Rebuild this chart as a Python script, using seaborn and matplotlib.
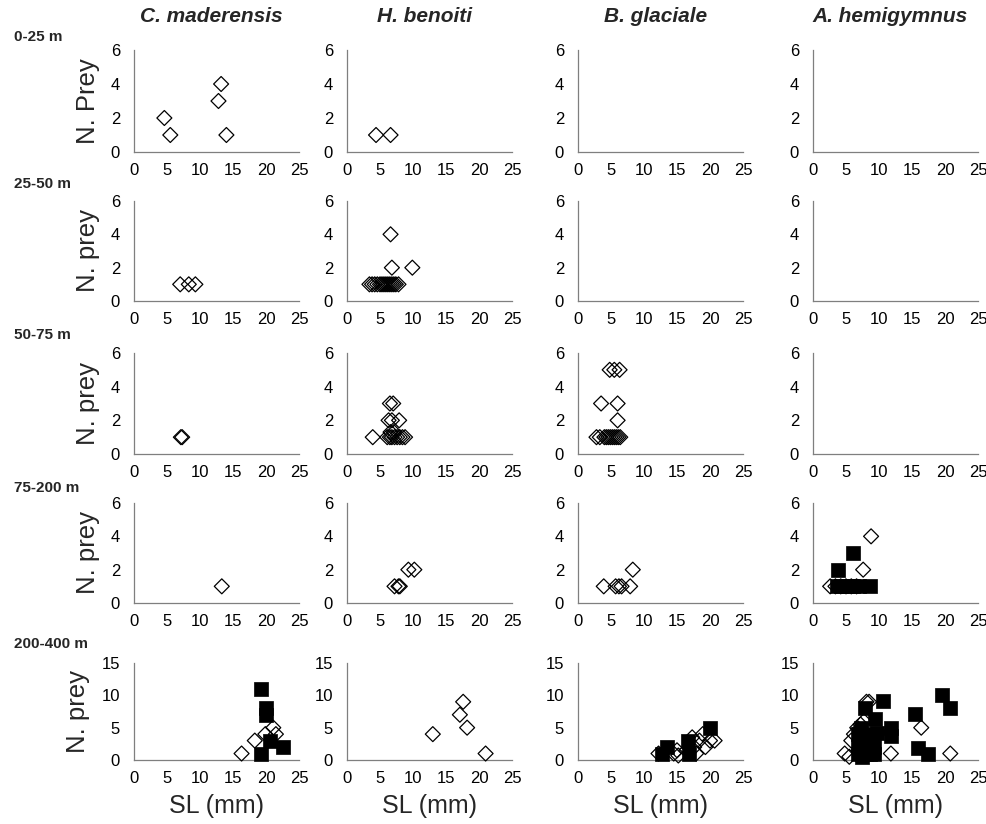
import numpy as np
import pandas as pd
import matplotlib
matplotlib.use("Agg")
import matplotlib.pyplot as plt
import seaborn as sns

# ---------------- data ----------------
species = ["C. maderensis", "H. benoiti", "B. glaciale", "A. hemigymnus"]
depths = ["0-25 m", "25-50 m", "50-75 m", "75-200 m", "200-400 m"]
ylabels = ["N. Prey", "N. prey", "N. prey", "N. prey", "N. prey"]
x_ticks = [0, 5, 10, 15, 20, 25]
y_ticks_upper = [0, 2, 4, 6]
y_ticks_lower = [0, 5, 10, 15]

# open diamonds (sl, prey) / filled squares (sl, prey)
cmad_d1_sl = [4.6, 5.5, 12.8, 13.2, 14.0]
cmad_d1_prey = [2, 1, 3, 4, 1]
hben_d1_sl = [4.4, 6.6]
hben_d1_prey = [1, 1]

cmad_d2_sl = [7.0, 8.3, 9.3]
cmad_d2_prey = [1, 1, 1]
hben_d2_sl = [3.4, 3.8, 4.2, 4.6, 5.0, 5.3, 5.6, 5.9, 6.2, 6.5, 6.8, 7.1, 7.4, 7.8, 6.6, 6.8, 9.9]
hben_d2_prey = [1, 1, 1, 1, 1, 1, 1, 1, 1, 1, 1, 1, 1, 1, 4, 2, 2]

cmad_d3_sl = [7.1, 7.3]
cmad_d3_prey = [1, 1]
hben_d3_sl = [3.9, 6.1, 6.5, 6.8, 7.2, 7.6, 8.0, 8.4, 8.8, 6.3, 6.8, 7.9, 6.5, 7.0, 6.6, 7.1]
hben_d3_prey = [1, 1, 1, 1, 1, 1, 1, 1, 1, 2, 2, 2, 3, 3, 1.3, 1.3]
bgla_d3_sl = [2.8, 3.3, 4.0, 4.3, 4.6, 4.9, 5.2, 5.5, 5.8, 6.1, 6.4, 3.5, 6.0, 6.0, 4.8, 5.5, 6.3]
bgla_d3_prey = [1, 1, 1, 1, 1, 1, 1, 1, 1, 1, 1, 3, 3, 2, 5, 5, 5]

cmad_d4_sl = [13.3]
cmad_d4_prey = [1]
hben_d4_sl = [7.2, 7.8, 8.0, 9.3, 10.2]
hben_d4_prey = [1, 1, 1, 2, 2]
bgla_d4_sl = [3.9, 5.7, 6.2, 6.6, 7.9, 8.3]
bgla_d4_prey = [1, 1, 1, 1, 1, 2]
ahem_d4_sl = [2.6, 3.4, 4.2, 5.0, 5.8, 6.6, 7.6, 8.8]
ahem_d4_prey = [1, 1, 1, 1, 1, 1, 2, 4]
ahem_d4_fsl = [3.6, 4.3, 5.2, 6.0, 6.9, 8.6, 3.8, 6.0]
ahem_d4_fprey = [1, 1, 1, 1, 1, 1, 2, 3]

cmad_d5_sl = [16.3, 18.3, 19.9, 21.1, 21.5]
cmad_d5_prey = [1, 3, 4, 5, 4]
cmad_d5_fsl = [19.3, 20.0, 20.0, 20.6, 19.3, 22.6]
cmad_d5_fprey = [11, 8, 7, 3, 1, 2]
hben_d5_sl = [13.0, 17.1, 17.6, 18.2, 21.0]
hben_d5_prey = [4, 7, 9, 5, 1]
bgla_d5_sl = [12.2, 14.5, 15.0, 15.2, 16.4, 17.3, 17.6, 17.9, 18.4, 18.9, 19.3, 20.0, 20.7]
bgla_d5_prey = [1, 1, 1.5, 0.7, 1.5, 3.5, 2, 1, 3, 4, 2, 3, 3]
bgla_d5_fsl = [12.8, 13.5, 16.7, 16.8, 20.0]
bgla_d5_fprey = [1, 2, 3, 1, 5]
ahem_d5_sl = [4.8, 5.5, 5.8, 6.2, 6.7, 7.2, 7.7, 8.1, 8.5, 11.8, 16.4, 20.8]
ahem_d5_prey = [1, 0.5, 3, 4, 5, 5.5, 6, 9, 9, 1, 5, 1]
ahem_d5_fsl = [6.8, 6.8, 6.8, 7.4, 7.4, 7.4, 8.0, 8.0, 8.6, 8.6, 9.3, 9.3, 7.2, 8.9,
               7.9, 9.4, 9.7, 10.6, 11.8, 11.8, 15.4, 15.9, 17.5, 19.6, 20.8]
ahem_d5_fprey = [1, 2, 4, 1, 3, 0.5, 2, 1, 1, 3, 2, 1, 5, 4,
                 8, 6.3, 4.1, 9.2, 5, 3.7, 7.1, 1.9, 1, 10, 8]

open_data = {
    (0, 0): (cmad_d1_sl, cmad_d1_prey), (0, 1): (hben_d1_sl, hben_d1_prey),
    (1, 0): (cmad_d2_sl, cmad_d2_prey), (1, 1): (hben_d2_sl, hben_d2_prey),
    (2, 0): (cmad_d3_sl, cmad_d3_prey), (2, 1): (hben_d3_sl, hben_d3_prey),
    (2, 2): (bgla_d3_sl, bgla_d3_prey),
    (3, 0): (cmad_d4_sl, cmad_d4_prey), (3, 1): (hben_d4_sl, hben_d4_prey),
    (3, 2): (bgla_d4_sl, bgla_d4_prey), (3, 3): (ahem_d4_sl, ahem_d4_prey),
    (4, 0): (cmad_d5_sl, cmad_d5_prey), (4, 1): (hben_d5_sl, hben_d5_prey),
    (4, 2): (bgla_d5_sl, bgla_d5_prey), (4, 3): (ahem_d5_sl, ahem_d5_prey),
}
filled_data = {
    (3, 3): (ahem_d4_fsl, ahem_d4_fprey),
    (4, 0): (cmad_d5_fsl, cmad_d5_fprey),
    (4, 2): (bgla_d5_fsl, bgla_d5_fprey),
    (4, 3): (ahem_d5_fsl, ahem_d5_fprey),
}

# ---------------- style ----------------
sns.set_style("white")
plt.rcParams["font.family"] = ["Liberation Sans", "DejaVu Sans"]

W, H = 987, 824
fig = plt.figure(figsize=(W / 100, H / 100), dpi=100)

col_left = [134, 347, 578, 813]
ax_w = 165
row_top = [50, 201, 353, 503, 663]
row_bot = [152, 301, 454, 603, 760]
row_label_y = [37, 184, 335, 488, 644]
spine_col = "#7f7f7f"

for r in range(5):
    for c in range(4):
        ax = fig.add_axes([col_left[c] / W, 1 - row_bot[r] / H,
                           ax_w / W, (row_bot[r] - row_top[r]) / H])
        if (r, c) in open_data:
            xs, ys = open_data[(r, c)]
            df = pd.DataFrame({"SL": xs, "prey": ys})
            sns.scatterplot(data=df, x="SL", y="prey", marker="D", s=58,
                            facecolor="none", edgecolor="black", linewidth=0.9,
                            ax=ax, zorder=3, clip_on=False)
        if (r, c) in filled_data:
            xs, ys = filled_data[(r, c)]
            df = pd.DataFrame({"SL": xs, "prey": ys})
            sns.scatterplot(data=df, x="SL", y="prey", marker="s", s=88,
                            color="black", edgecolor="black", linewidth=0.5,
                            ax=ax, zorder=4, clip_on=False)
        ax.set_xlim(0, 25)
        ax.set_xticks(x_ticks)
        if r < 4:
            ax.set_ylim(0, 6)
            ax.set_yticks(y_ticks_upper)
        else:
            ax.set_ylim(0, 15)
            ax.set_yticks(y_ticks_lower)
        for s in ["top", "right"]:
            ax.spines[s].set_visible(False)
        for s in ["left", "bottom"]:
            ax.spines[s].set_color(spine_col)
            ax.spines[s].set_linewidth(0.9)
        ax.tick_params(axis="both", direction="out", length=4, width=0.9,
                       color=spine_col, labelsize=12, labelcolor="black", pad=4)
        ax.tick_params(axis="y", pad=6)
        if c == 0:
            ax.set_ylabel(ylabels[r], fontsize=18.5, labelpad=8)
        else:
            ax.set_ylabel("")
        if r == 4:
            ax.set_xlabel("SL (mm)", fontsize=18, labelpad=6)
        else:
            ax.set_xlabel("")

for c in range(4):
    fig.text((col_left[c] + ax_w / 2 - 5) / W, 1 - 17 / H, species[c],
             fontsize=15, fontweight="bold", fontstyle="italic",
             ha="center", va="center")
for r in range(5):
    fig.text(14 / W, 1 - row_label_y[r] / H, depths[r], fontsize=11,
             fontweight="bold", ha="left", va="center")

fig.savefig("out.png", dpi=100)
